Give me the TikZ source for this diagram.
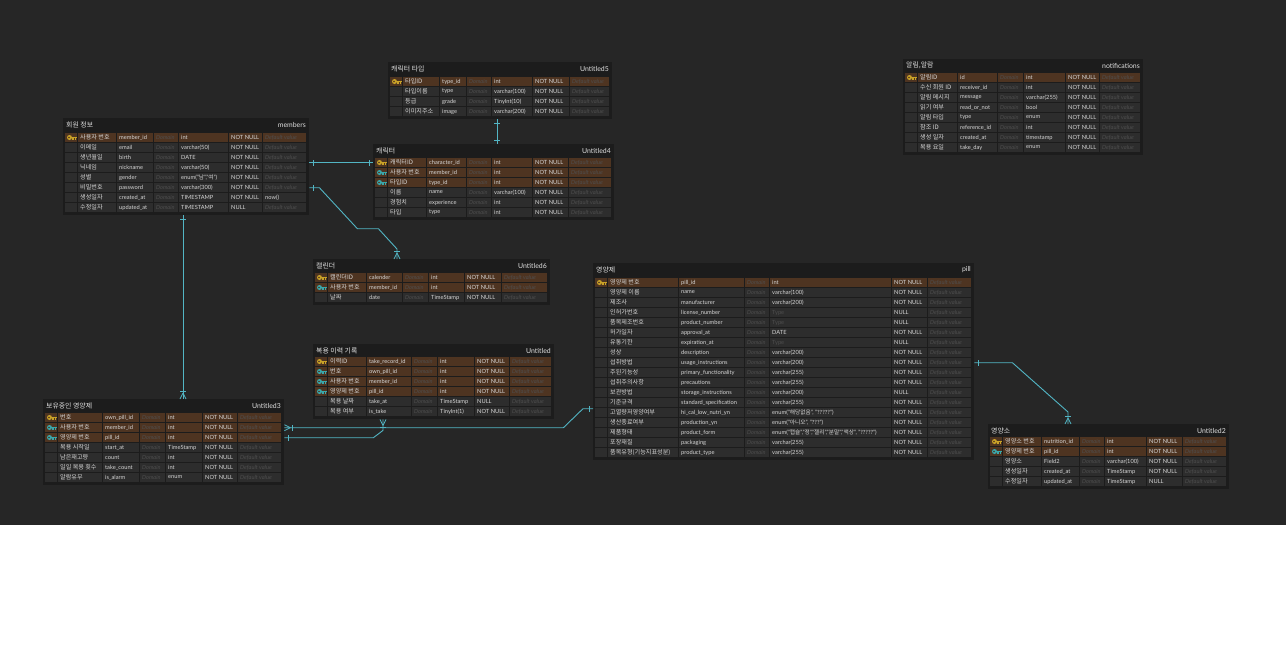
\documentclass[tikz,border=0pt]{standalone}
\usepackage{fontspec}
\setmainfont{Lato}
\newfontfamily\kr{Noto Sans CJK KR}
\usetikzlibrary{calc,decorations.markings}

\definecolor{canvas}{HTML}{262626}
\definecolor{boxbg}{HTML}{1C1C1C}
\definecolor{cellbg}{HTML}{2D2D2D}
\definecolor{keybg}{HTML}{4E3421}
\definecolor{txt}{HTML}{D6D6D6}
\definecolor{dimtxt}{HTML}{4E4E4E}
\definecolor{linkc}{HTML}{52B5C4}
\definecolor{pkc}{HTML}{C9A227}
\definecolor{fkc}{HTML}{3AA7AA}

\newcommand{\phdef}{\textcolor{dimtxt}{\itshape Default value}}
\newcommand{\phtype}{\textcolor{dimtxt}{Type}}

% table frame: name, x1, y1, x2, y2, korean title, table name
\newcommand{\erdbox}[7]{%
  \node[tbox,minimum width=#4-#2,minimum height=#5-#3] (#1) at (#2,#3) {};
  \node[ttl,anchor=west] (#1-kr) at (#2+3,#3+6.5) {\kr #6};
  \node[ttl,anchor=east] (#1-en) at (#4-3,#3+6.5) {#7};
  \def\tn{#1}}
% column borders and first row
\newcommand{\erdcols}[9]{\def\ca{#1}\def\cb{#2}\def\cc{#3}\def\cd{#4}%
  \def\ce{#5}\def\cf{#6}\def\cg{#7}\def\ch{#8}\def\ry{#9}}
\newcommand{\drawkey}[1]{%
  \fill[#1] (\ca+4.5,\ya+4.5) circle (2.5);
  \fill[#1] (\ca+5,\ya+3.6) rectangle (\ca+11.5,\ya+5.4);
  \fill[#1] (\ca+9.5,\ya+5) rectangle (\ca+10.8,\ya+7);
  \fill[#1] (\ca+7.4,\ya+5) rectangle (\ca+8.6,\ya+6.5);
  \fill[keybg] (\ca+4,\ya+4.5) circle (0.8);}
\newcommand{\iconpk}{\drawkey{pkc}}
\newcommand{\iconfk}{\drawkey{fkc}}
\newcommand{\iconpl}{}
% row: index, kind (pk/fk/pl), korean, field, type, null, default
\newcommand{\erdrow}[7]{%
  \pgfmathsetmacro\ya{\ry+10*#1}
  \node[rowspan,minimum width=\ch-\ca] (\tn-#1) at (\ca,\ya) {};
  \foreach \xa/\xb in {\ca/\cb,\cb/\cc,\cc/\cd,\cd/\ce,\ce/\cf,\cf/\cg,\cg/\ch}
    \fill[fill#2] (\xa,\ya) rectangle (\xb-1,\ya+9);
  \csname icon#2\endcsname
  \node[cell,font=\fontsize{6.1}{6.5}\kr] (\tn-#1-kr) at (\cb+2,\ya+4.5) {#3};
  \node[cell] (\tn-#1-f) at (\cc+2,\ya+4.5) {#4};
  \node[cell,text=dimtxt,font=\fontsize{5.6}{6}\selectfont\itshape] (\tn-#1-d) at (\cd+2,\ya+4.5) {Domain};
  \node[cell] (\tn-#1-t) at (\ce+2,\ya+4.5) {#5};
  \node[cell] (\tn-#1-n) at (\cf+2,\ya+4.5) {#6};
  \node[cell] (\tn-#1-v) at (\cg+2,\ya+4.5) {#7};}

\begin{document}
\catcode`\_=12
\begin{tikzpicture}[x=1pt,y=-1pt]
%\draw[help lines] (0,0) grid (1286,648);
\tikzstyle{tbox}=[rectangle,fill=boxbg,inner sep=0,anchor=north west]
\tikzstyle{ttl}=[inner sep=0,text=white!88!black,font=\fontsize{6.9}{7}\selectfont]
\tikzstyle{cell}=[inner sep=0,anchor=west,text=txt,font=\fontsize{5.7}{6}\selectfont]
\tikzstyle{rowspan}=[rectangle,inner sep=0,minimum height=9,anchor=north west]
\tikzstyle{fillpk}=[fill=keybg]
\tikzstyle{fillfk}=[fill=keybg]
\tikzstyle{fillpl}=[fill=cellbg]
\tikzstyle{conn}=[draw=linkc,line width=0.9pt]
\tikzstyle{oneone}=[postaction={decorate,decoration={markings,
  mark=at position 4pt with {\draw[linkc,line width=0.8pt] (0,-3pt) -- (0,3pt);},
  mark=at position -4pt with {\draw[linkc,line width=0.8pt] (0,-3pt) -- (0,3pt);}}}]
\tikzstyle{onemany}=[postaction={decorate,decoration={markings,
  mark=at position 4pt with {\draw[linkc,line width=0.8pt] (0,-3pt) -- (0,3pt);},
  mark=at position -8pt with {\draw[linkc,line width=0.8pt] (0,-3pt) -- (0,3pt);},
  mark=at position -6pt with {\draw[linkc,line width=0.8pt] (0,0) -- (6pt,3pt) (0,0) -- (6pt,-3pt);}}}]
\tikzstyle{manyone}=[postaction={decorate,decoration={markings,
  mark=at position 6pt with {\draw[linkc,line width=0.8pt] (0,0) -- (-6pt,3pt) (0,0) -- (-6pt,-3pt);},
  mark=at position 8pt with {\draw[linkc,line width=0.8pt] (0,-3pt) -- (0,3pt);},
  mark=at position -4pt with {\draw[linkc,line width=0.8pt] (0,-3pt) -- (0,3pt);}}}]

\fill[white] (0,0) rectangle (1286,648);
\fill[canvas] (0,0) rectangle (1286,525);
\useasboundingbox (0,0) rectangle (1286,648);

% character type
\erdbox{ctype}{388}{62}{612}{119}{캐릭터 타입}{Untitled5}
\erdcols{390}{403}{440}{467}{492}{533}{570}{610}{77}
\erdrow{0}{pk}{타입ID}{type_id}{int}{NOT NULL}{\phdef}
\erdrow{1}{pl}{타입이름}{type}{varchar(100)}{NOT NULL}{\phdef}
\erdrow{2}{pl}{등급}{grade}{TinyInt(10)}{NOT NULL}{\phdef}
\erdrow{3}{pl}{이미지주소}{image}{varchar(200)}{NOT NULL}{\phdef}

% notifications
\erdbox{noti}{903}{59}{1143}{155}{알림,알람}{notifications}
\erdcols{905}{918}{958}{998}{1024}{1066}{1100}{1141}{73}
\erdrow{0}{pk}{알림ID}{id}{int}{NOT NULL}{\phdef}
\erdrow{1}{pl}{수신 회원 ID}{receiver_id}{int}{NOT NULL}{\phdef}
\erdrow{2}{pl}{알림 메시지}{message}{varchar(255)}{NOT NULL}{\phdef}
\erdrow{3}{pl}{읽기 여부}{read_or_not}{bool}{NOT NULL}{\phdef}
\erdrow{4}{pl}{알림 타입}{type}{enum}{NOT NULL}{\phdef}
\erdrow{5}{pl}{참조 ID}{reference_id}{int}{NOT NULL}{\phdef}
\erdrow{6}{pl}{생성 일자}{created_at}{timestamp}{NOT NULL}{\phdef}
\erdrow{7}{pl}{복용 요일}{take_day}{enum}{NOT NULL}{\phdef}

% members
\erdbox{mem}{63}{118}{309}{215}{회원 정보}{members}
\erdcols{65}{78}{117}{154}{179}{229}{263}{307}{133}
\erdrow{0}{pk}{사용자 번호}{member_id}{int}{NOT NULL}{\phdef}
\erdrow{1}{pl}{이메일}{email}{varchar(50)}{NOT NULL}{\phdef}
\erdrow{2}{pl}{생년월일}{birth}{DATE}{NOT NULL}{\phdef}
\erdrow{3}{pl}{닉네임}{nickname}{varchar(50)}{NOT NULL}{\phdef}
\erdrow{4}{pl}{성별}{gender}{enum("{\kr 남}","{\kr 여}")}{NOT NULL}{\phdef}
\erdrow{5}{pl}{비밀번호}{password}{varchar(300)}{NOT NULL}{\phdef}
\erdrow{6}{pl}{생성일자}{created_at}{TIMESTAMP}{NOT NULL}{now()}
\erdrow{7}{pl}{수정일자}{updated_at}{TIMESTAMP}{NULL}{\phdef}

% character
\erdbox{chr}{373}{144}{614}{220}{캐릭터}{Untitled4}
\erdcols{375}{388}{427}{467}{492}{533}{569}{612}{158}
\erdrow{0}{pk}{캐릭터ID}{character_id}{int}{NOT NULL}{\phdef}
\erdrow{1}{fk}{사용자 번호}{member_id}{int}{NOT NULL}{\phdef}
\erdrow{2}{fk}{타입ID}{type_id}{int}{NOT NULL}{\phdef}
\erdrow{3}{pl}{이름}{name}{varchar(100)}{NOT NULL}{\phdef}
\erdrow{4}{pl}{경험치}{experience}{int}{NOT NULL}{\phdef}
\erdrow{5}{pl}{타입}{type}{int}{NOT NULL}{\phdef}

% calendar
\erdbox{cal}{313}{259}{550}{305}{캘린더}{Untitled6}
\erdcols{315}{328}{367}{403}{429}{465}{502}{548}{273}
\erdrow{0}{pk}{캘린더ID}{calender}{int}{NOT NULL}{\phdef}
\erdrow{1}{fk}{사용자 번호}{member_id}{int}{NOT NULL}{\phdef}
\erdrow{2}{pl}{날짜}{date}{TimeStamp}{NOT NULL}{\phdef}

% pill
\erdbox{pill}{593}{263}{974}{460}{영양제}{pill}
\erdcols{595}{608}{679}{745}{770}{892}{928}{972}{278}
\erdrow{0}{pk}{영양제 번호}{pill_id}{int}{NOT NULL}{\phdef}
\erdrow{1}{pl}{영양제 이름}{name}{varchar(100)}{NOT NULL}{\phdef}
\erdrow{2}{pl}{제조사}{manufacturer}{varchar(200)}{NOT NULL}{\phdef}
\erdrow{3}{pl}{인허가번호}{license_number}{\phtype}{NULL}{\phdef}
\erdrow{4}{pl}{품목제조번호}{product_number}{\phtype}{NULL}{\phdef}
\erdrow{5}{pl}{허가일자}{approval_at}{DATE}{NOT NULL}{\phdef}
\erdrow{6}{pl}{유통기한}{expiration_at}{\phtype}{NULL}{\phdef}
\erdrow{7}{pl}{성상}{description}{varchar(200)}{NOT NULL}{\phdef}
\erdrow{8}{pl}{섭취방법}{usage_instructions}{varchar(200)}{NOT NULL}{\phdef}
\erdrow{9}{pl}{주된기능성}{primary_functionality}{varchar(255)}{NOT NULL}{\phdef}
\erdrow{10}{pl}{섭취주의사항}{precautions}{varchar(255)}{NOT NULL}{\phdef}
\erdrow{11}{pl}{보관방법}{storage_instructions}{varchar(200)}{NULL}{\phdef}
\erdrow{12}{pl}{기준규격}{standard_specification}{varchar(255)}{NOT NULL}{\phdef}
\erdrow{13}{pl}{고열량저영양여부}{hi_cal_low_nutri_yn}{enum("{\kr 해당없음}", "?????")}{NOT NULL}{\phdef}
\erdrow{14}{pl}{생산종료여부}{production_yn}{enum("{\kr 아니오}", "???")}{NOT NULL}{\phdef}
\erdrow{15}{pl}{제품형태}{product_form}{enum("{\kr 캡슐}","{\kr 정}","{\kr 젤리}","{\kr 분말}","{\kr 액상}", "?????")}{NOT NULL}{\phdef}
\erdrow{16}{pl}{포장재질}{packaging}{varchar(255)}{NOT NULL}{\phdef}
\erdrow{17}{pl}{품목유형(기능지표성분)}{product_type}{varchar(255)}{NOT NULL}{\phdef}

% take record
\erdbox{rec}{313}{344}{554}{419}{복용 이력 기록}{Untitled}
\erdcols{315}{328}{367}{412}{438}{475}{510}{552}{357}
\erdrow{0}{pk}{이력ID}{take_record_id}{int}{NOT NULL}{\phdef}
\erdrow{1}{fk}{번호}{own_pill_id}{int}{NOT NULL}{\phdef}
\erdrow{2}{fk}{사용자 번호}{member_id}{int}{NOT NULL}{\phdef}
\erdrow{3}{fk}{영양제 번호}{pill_id}{int}{NOT NULL}{\phdef}
\erdrow{4}{pl}{복용 날짜}{take_at}{TimeStamp}{NULL}{\phdef}
\erdrow{5}{pl}{복용 여부}{is_take}{TinyInt(1)}{NOT NULL}{\phdef}

% owned pills
\erdbox{own}{43}{399}{284}{485}{보유중인 영양제}{Untitled3}
\erdcols{45}{58}{103}{140}{166}{203}{238}{282}{413}
\erdrow{0}{pk}{번호}{own_pill_id}{int}{NOT NULL}{\phdef}
\erdrow{1}{fk}{사용자 번호}{member_id}{int}{NOT NULL}{\phdef}
\erdrow{2}{fk}{영양제 번호}{pill_id}{int}{NOT NULL}{\phdef}
\erdrow{3}{pl}{복용 시작일}{start_at}{TimeStamp}{NOT NULL}{\phdef}
\erdrow{4}{pl}{남은재고량}{count}{int}{NOT NULL}{\phdef}
\erdrow{5}{pl}{일일 복용 횟수}{take_count}{int}{NOT NULL}{\phdef}
\erdrow{6}{pl}{알람유무}{is_alarm}{enum}{NOT NULL}{\phdef}

% nutrients
\erdbox{nut}{988}{424}{1229}{489}{영양소}{Untitled2}
\erdcols{990}{1003}{1042}{1080}{1105}{1147}{1183}{1227}{437}
\erdrow{0}{pk}{영양소 번호}{nutrition_id}{int}{NOT NULL}{\phdef}
\erdrow{1}{fk}{영양제 번호}{pill_id}{int}{NOT NULL}{\phdef}
\erdrow{2}{pl}{영양소}{Field2}{varchar(100)}{NOT NULL}{\phdef}
\erdrow{3}{pl}{생성일자}{created_at}{TimeStamp}{NOT NULL}{\phdef}
\erdrow{4}{pl}{수정일자}{updated_at}{TimeStamp}{NULL}{\phdef}

% relations
\coordinate (ctypeB) at ($(ctype.south west)+(109,0)$);
\draw[conn,oneone] (ctypeB) -- (ctypeB |- chr.north);
\draw[conn,oneone] (chr-0 -| mem.east) -- (chr-0 -| chr.west);
\coordinate (calT) at ($(cal.north west)+(84,0)$);
\draw[conn,onemany] (mem-5 -| mem.east) -- ++(10,0) -- ++(38,41) -- ++(21,0) -- ($(calT)+(0,-10)$) -- (calT);
\coordinate (memB) at ($(mem.south west)+(120,0)$);
\draw[conn,onemany] (memB) -- (memB |- own.north);
\coordinate (pillW) at ($(pill-13 -| pill.west)+(0,-4)$);
\draw[conn,manyone] (own-1 -| own.east) -- ++(279,0) -- ($(pillW)+(-10,0)$) -- (pillW);
\coordinate (recB) at ($(rec.south west)+(70,0)$);
\draw[conn,onemany] (own-2 -| own.east) -- ++(89,0) -- ($(recB)+(0,11)$) -- (recB);
\coordinate (nutT) at ($(nut.north west)+(80,0)$);
\draw[conn,onemany] (pill-8 -| pill.east) -- ++(38,0) -- ($(nutT)+(0,-12)$) -- (nutT);
\end{tikzpicture}
\end{document}
